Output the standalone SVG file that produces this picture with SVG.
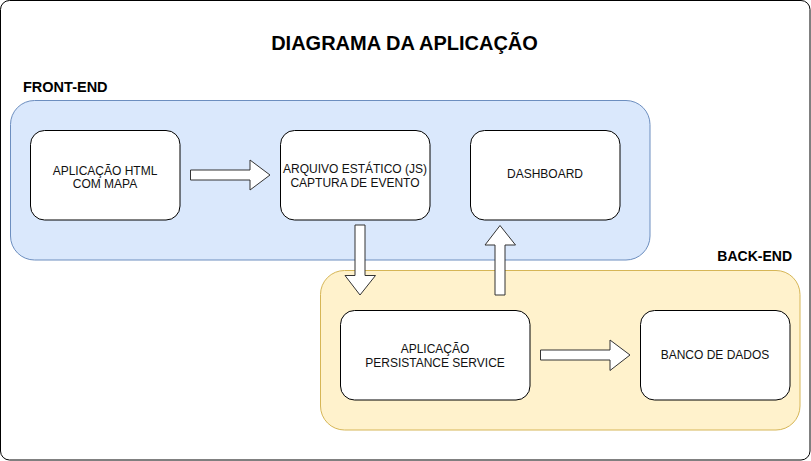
<svg xmlns="http://www.w3.org/2000/svg" width="811" height="461" viewBox="0 0 811 461">
<style>
.node{fill:#ffffff;stroke:#000000;stroke-width:1}
.lbl{font-family:"Liberation Sans",Arial,sans-serif;font-size:12px;fill:#111111;text-anchor:middle}
.hdr{font-family:"Liberation Sans",Arial,sans-serif;font-weight:bold;fill:#000000}
.arrow{fill:#ffffff;stroke:#333333;stroke-width:1;stroke-linejoin:miter}
</style>
<rect x="0.5" y="0.5" width="809.5" height="459.5" rx="9" ry="9" fill="#ffffff" stroke="#000000" stroke-width="1"/>
<text class="hdr" x="404.5" y="50" font-size="20" text-anchor="middle">DIAGRAMA DA APLICAÇÃO</text>
<g id="frontend">
<rect x="10.5" y="100.5" width="639.5" height="159.5" rx="24" ry="24" fill="#dae8fc" stroke="#6c8ebf" stroke-width="1"/>
<text class="hdr" x="23" y="92" font-size="14.5">FRONT-END</text>
</g>
<g id="backend">
<rect x="320.5" y="270.5" width="479.5" height="159.5" rx="24" ry="24" fill="#fff2cc" stroke="#d6b656" stroke-width="1"/>
<text class="hdr" x="792" y="261" font-size="14" text-anchor="end">BACK-END</text>
</g>
<g id="node-html">
<rect class="node" x="30.5" y="130.5" width="149.5" height="89.5" rx="14" ry="14"/>
<text class="lbl" x="105" y="174.5">APLICAÇÃO HTML</text>
<text class="lbl" x="105" y="188">COM MAPA</text>
</g>
<g id="node-arquivo">
<rect class="node" x="280.5" y="130.5" width="149.5" height="89.5" rx="14" ry="14"/>
<text class="lbl" x="355" y="173">ARQUIVO ESTÁTICO (JS)</text>
<text class="lbl" x="355" y="186.5">CAPTURA DE EVENTO</text>
</g>
<g id="node-dashboard">
<rect class="node" x="470.5" y="130.5" width="149.5" height="89.5" rx="14" ry="14"/>
<text class="lbl" x="545" y="178">DASHBOARD</text>
</g>
<g id="node-persistance">
<rect class="node" x="340.5" y="310.5" width="189.5" height="89.5" rx="14" ry="14"/>
<text class="lbl" x="435" y="353">APLICAÇÃO</text>
<text class="lbl" x="435" y="366.5">PERSISTANCE SERVICE</text>
</g>
<g id="node-banco">
<rect class="node" x="640.5" y="310.5" width="149.5" height="89.5" rx="14" ry="14"/>
<text class="lbl" x="715" y="359">BANCO DE DADOS</text>
</g>
<g id="connectors">
<polygon class="arrow" points="190.5,170 250,170 250,160 270,175 250,190 250,180 190.5,180"/>
<polygon class="arrow" points="355,225 365,225 365,275.5 375.5,275.5 360,295 345,275.5 355,275.5"/>
<polygon class="arrow" points="495,295 495,245 485,245 500,225.5 515.5,245 505,245 505,295"/>
<polygon class="arrow" points="540.5,350 610,350 610,340 630,355 610,370.5 610,360 540.5,360"/>
</g>
</svg>
